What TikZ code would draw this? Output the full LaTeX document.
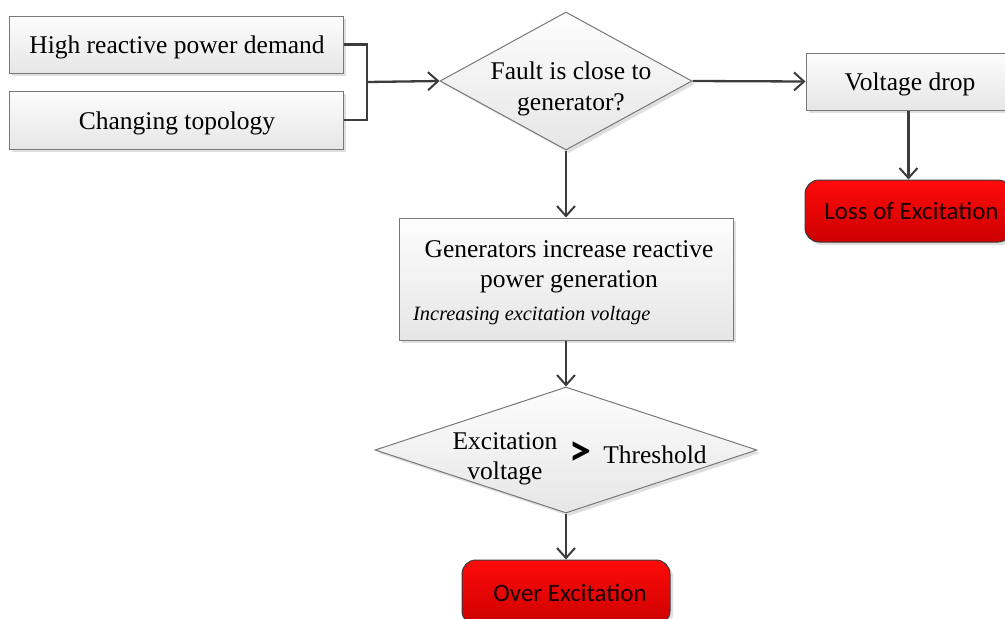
\documentclass[tikz,border=0pt]{standalone}
\usepackage{fontspec}
\setmainfont{Liberation Serif}
\newfontfamily\calib{Carlito}
\usetikzlibrary{shapes.geometric,arrows.meta,shadows}
\definecolor{linec}{RGB}{60,60,60}
\definecolor{boxborder}{RGB}{120,120,120}
\definecolor{boxtop}{RGB}{253,253,253}
\definecolor{boxbot}{RGB}{230,230,230}
\definecolor{redtop}{RGB}{255,10,10}
\definecolor{redbot}{RGB}{205,0,0}
\tikzset{
  shad/.style={drop shadow={opacity=0.25,shadow xshift=3pt,shadow yshift=-3pt,fill=gray}},
  procbox/.style={draw=boxborder,line width=1pt,top color=boxtop,bottom color=boxbot,shad,inner sep=0pt},
  decbox/.style={diamond,draw=boxborder,line width=1pt,top color=boxtop,bottom color=boxbot,shad,inner sep=0pt},
  endbox/.style={draw=linec,line width=1pt,rounded corners=14pt,top color=redtop,bottom color=redbot,shad,inner sep=0pt,font=\calib\fontsize{25}{29}\selectfont,text=black!90!red},
  txt/.style={font=\fontsize{25.5}{30.5}\selectfont,inner sep=0pt,align=center},
  conn/.style={draw=linec,line width=2.3pt},
  arr/.style={conn,-{Straight Barb[length=10pt,width=18pt,line width=2pt]}}
}
\begin{document}
\begin{tikzpicture}[x=1pt,y=-1pt]
\useasboundingbox (0,0) rectangle (1005,619);
% boxes
\node[procbox,minimum width=334pt,minimum height=57pt] (hr) at (176,44.5) {};
\node[txt] (hrt) at (177,47) {High reactive power demand};
\node[procbox,minimum width=334pt,minimum height=58pt] (ct) at (176,120) {};
\node[txt] (ctt) at (177,123) {Changing topology};
\node[decbox,minimum width=252pt,minimum height=138pt,aspect=1.826] (d1) at (566,81) {};
\node[txt] (d1t) at (571,89) {Fault is close to\\generator?};
\node[procbox,minimum width=205pt,minimum height=57pt] (vd) at (908.5,81.5) {};
\node[txt] (vdt) at (910,84) {Voltage drop};
\node[endbox,minimum width=207pt,minimum height=62pt] (loe) at (908.5,211) {\hspace*{6pt}Loss of Excitation};
\node[procbox,minimum width=334pt,minimum height=122pt] (gen) at (566,279) {};
\node[txt] (gent) at (569,267) {Generators increase reactive\\power generation};
\node[font=\itshape\fontsize{20.4}{24}\selectfont,inner sep=0pt,anchor=west] (gent2) at (413,316) {Increasing excitation voltage};
\node[decbox,minimum width=382pt,minimum height=126pt,aspect=3.03] (d2) at (566,450) {};
\node[txt] (d2a) at (505,459) {Excitation\\voltage};
\node[font=\calib\bfseries\fontsize{44}{48}\selectfont,inner sep=0pt] (d2g) at (580,454) {>};
\node[txt] (d2b) at (655,455) {Threshold};
\node[endbox,minimum width=208pt,minimum height=65pt] (oe) at (566,592.5) {\hspace*{8pt}Over Excitation};
% connectors
\coordinate (j) at (367,82);
\draw[conn] (hr.east) -| (j);
\draw[conn] (ct.east) -| (j);
\draw[arr] (j) -- (d1.west);
\draw[arr] (d1.east) -- (vd.west);
\draw[arr] (vd.south) -- (loe.north);
\draw[arr] (d1.south) -- (gen.north);
\draw[arr] (gen.south) -- (d2.north);
\draw[arr] (d2.south) -- (oe.north);
\end{tikzpicture}
\end{document}
